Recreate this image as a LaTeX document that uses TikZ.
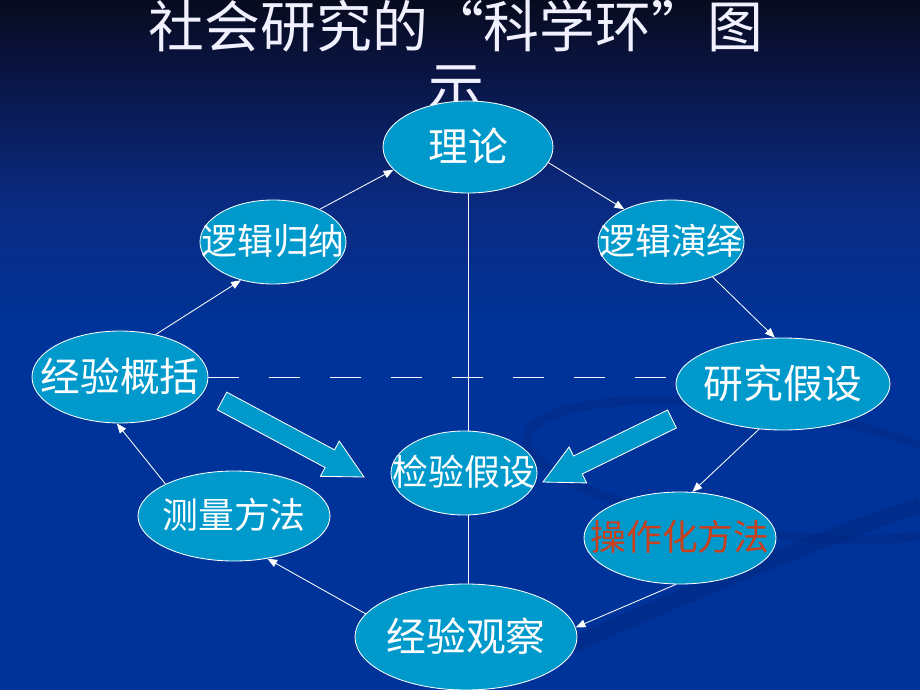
\documentclass[tikz,border=0pt]{standalone}
\usepackage{fontspec}
\setmainfont{Noto Sans CJK SC}
\usetikzlibrary{shapes.geometric,arrows.meta,calc}
\pgfdeclarelayer{back}
\pgfdeclarelayer{mid}
\pgfsetlayers{back,mid,main}
\definecolor{bgtop}{HTML}{070B1E}
\definecolor{bgone}{HTML}{0A1442}
\definecolor{bgtwo}{HTML}{0A2A80}
\definecolor{bgbot}{HTML}{003399}
\definecolor{swoosh}{HTML}{00247A}
\definecolor{bub}{HTML}{0099CC}
\definecolor{ttl}{HTML}{F0F0FF}
\definecolor{redtxt}{HTML}{C8401E}
\newdimen\pxu \pxu=0.025cm
% text of a bubble, kept out of the node size
\newcommand\bt[1]{\makebox[0pt]{\raisebox{-0.36em}[0pt][0pt]{#1}}}
\newcommand\blockarrow[2]{%
  \coordinate (fb) at ($(#2)!0.97cm!(#1)$);
  \filldraw[fatarrow] ($(#1)!0.25cm!90:(#2)$) -- ($(fb)!0.25cm!90:(#2)$)
    -- ($(fb)!0.5cm!90:(#2)$) -- (#2) -- ($(fb)!0.5cm!-90:(#2)$)
    -- ($(fb)!0.25cm!-90:(#2)$) -- ($(#1)!0.25cm!-90:(#2)$) -- cycle;}
\tikzset{
  bubble/.style 2 args={ellipse, draw=white, line width=0.6pt, fill=bub, text=white,
    inner sep=0pt, minimum width=#1\pxu, minimum height=#2\pxu},
  big/.style={font=\fontsize{28.3pt}{30pt}\selectfont},
  small/.style={font=\fontsize{25.5pt}{27pt}\selectfont},
  conn/.style={draw=white, line width=0.6pt, -{Triangle[length=7pt,width=5.5pt]}},
  fatarrow/.style={fill=bub, draw=white, line width=0.6pt, line join=miter},
  ttlfont/.style={font=\fontsize{39.7pt}{40pt}\selectfont, text=ttl, anchor=base, inner sep=0pt},
}
\begin{document}
\begin{tikzpicture}[x=0.025cm,y=-0.025cm]
\useasboundingbox (0,0) rectangle (920,690);
\begin{pgfonlayer}{back}
\shade[top color=bgtop,bottom color=bgone] (0,0) rectangle (920,70);
\shade[top color=bgone,bottom color=bgtwo] (0,70) rectangle (920,200);
\shade[top color=bgtwo,bottom color=bgbot] (0,200) rectangle (920,330);
\fill[bgbot] (0,330) rectangle (920,690);
% template swooshes
\draw[swoosh, line width=9\pxu, opacity=.35, rotate around={-8:(760,470)}] (760,470) ellipse (235 and 62);
\draw[swoosh, line width=16\pxu, opacity=.4] (470,690) .. controls (650,610) and (800,545) .. (920,505);
% title
\node[ttlfont] (tt1) at (456,48) {社会研究的“科学环”图};
\node[ttlfont] (tt2) at (456,109) {示};
\end{pgfonlayer}

\node[bubble={170}{92}, big] (lilun) at (468,147) {\bt{理论}};
\node[bubble={146}{84}, small] (ljgn) at (273,242) {\bt{逻辑归纳}};
\node[bubble={146}{84}, small] (ljyy) at (671,242) {\bt{逻辑演绎}};
\node[bubble={176}{92}, big] (jygk) at (120,377) {\bt{经验概括}};
\node[bubble={214}{92}, big] (yjjs) at (783,384) {\bt{研究假设}};
\node[bubble={146}{84}, small] (jyjs) at (464,473) {\bt{检验假设}};
\node[bubble={192}{90}, small] (clff) at (234,516) {\bt{测量方法}};
\node[bubble={192}{92}, small, text=redtxt] (czh) at (680,538) {\bt{操作化方法}};
\node[bubble={222}{106}, big] (jygc) at (466,637) {\bt{经验观察}};

\begin{pgfonlayer}{mid}
\draw[white, line width=0.6pt] (lilun.south) -- (lilun.south |- jygc.north);
\draw[white, line width=0.6pt, dash pattern=on 22pt off 21.3pt] (jygk.east) -- (jygk.east -| yjjs.west);
\end{pgfonlayer}

\draw[conn] (jygk.50) -- (ljgn.230);
\draw[conn] (ljgn.35) -- (lilun.197);
\draw[conn] (lilun.-11) -- (ljyy.145);
\draw[conn] (ljyy.-40) -- (yjjs.100);
\draw[conn] (yjjs.242) -- (czh.75);
\draw[conn] (czh.265) -- (jygc.5);
\draw[conn] (jygc.167) -- (clff.-52);
\draw[conn] (clff.155) -- (jygk.266);

\coordinate (a1t) at (222,401);
\coordinate (a1h) at (364,477);
\coordinate (a2t) at (672,419);
\coordinate (a2h) at (543,482);
\blockarrow{a1t}{a1h}
\blockarrow{a2t}{a2h}
\end{tikzpicture}
\end{document}
